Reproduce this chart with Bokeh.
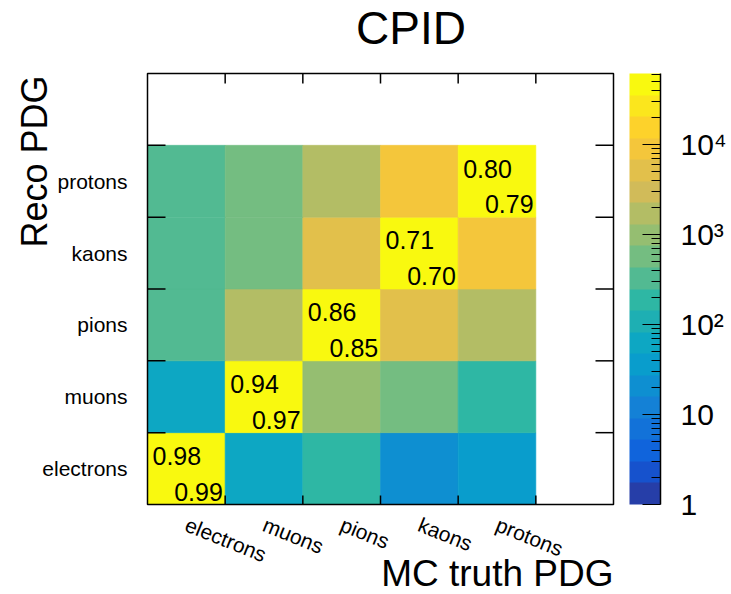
import numpy as np
from bokeh.plotting import figure
from bokeh.models import ColumnDataSource, LogColorMapper, ColorBar, FixedTicker, Label
from bokeh.core.properties import value
from bokeh.embed import file_html
from bokeh.resources import INLINE

# ---- data -------------------------------------------------------------
species = ["electrons", "muons", "pions", "kaons", "protons"]

# counts: one list per reconstructed species (rows), ordered by MC truth species (columns)
reco_electrons = [61500, 62, 190, 21, 36]
reco_muons = [62, 52000, 980, 580, 190]
reco_pions = [330, 1700, 44000, 5200, 1700]
reco_kaons = [330, 580, 5200, 38000, 9000]
reco_protons = [330, 580, 1700, 9000, 41000]

# fractions printed in the diagonal cells
diag_upper = ["0.98", "0.94", "0.86", "0.71", "0.80"]
diag_lower = ["0.99", "0.97", "0.85", "0.70", "0.79"]

z_low = 1
cbar_major = [1, 10, 100, 1000, 10000]
cbar_major_text = ["1", "10", "10\u00b2", "10\u00b3", "10\u2074"]

FONT = "Liberation Sans"

# ---- ROOT-like "bird" palette, 20 discrete contour levels ---------------
stops = [0.0, 0.125, 0.25, 0.375, 0.5, 0.625, 0.75, 0.875, 1.0]
red = [0.2082, 0.0592, 0.0780, 0.0232, 0.1802, 0.5301, 0.8186, 0.9956, 0.9764]
green = [0.1664, 0.3599, 0.5041, 0.6419, 0.7178, 0.7492, 0.7328, 0.7862, 0.9832]
blue = [0.5293, 0.8684, 0.8385, 0.7914, 0.6425, 0.4662, 0.3499, 0.1968, 0.0539]

def gradient_table(n=255):
    table = []
    for g in range(1, len(stops)):
        a = int(np.floor(n * stops[g - 1]))
        b = int(np.floor(n * stops[g]))
        m = b - a
        for c in range(m):
            f = c / m
            rgb = [ch[g - 1] + (ch[g] - ch[g - 1]) * f for ch in (red, green, blue)]
            table.append(rgb)
    return table

table = gradient_table()
ndiv = 20
palette = []
for i in range(ndiv):
    j = int((i + 0.99) * len(table) / ndiv)
    r, g, b = table[min(j, len(table) - 1)]
    palette.append("#%02x%02x%02x" % (int(round(r * 255)), int(round(g * 255)), int(round(b * 255))))

# ---- page geometry: the drawing area spans the whole canvas -------------
W, H = 731, 594
FRAME_L, FRAME_R, FRAME_T, FRAME_B = 147, 613, 73, 504   # histogram frame, px

nbins = len(species) + 1
ux = (FRAME_R - FRAME_L) / nbins      # px per bin along x
uy = (FRAME_B - FRAME_T) / nbins      # px per bin along y

def dx(px):   # px -> data units (x)
    return px / ux

def dy(px):   # px -> data units (y)
    return px / uy

x_range = (-dx(FRAME_L), dx(W - FRAME_L))
y_range = (-dy(H - FRAME_B), dy(FRAME_B))

p = figure(width=W, height=H, x_range=x_range, y_range=y_range,
           output_backend="svg", toolbar_location=None,
           x_axis_location=None, y_axis_location=None, min_border=0)
p.xgrid.grid_line_color = None
p.ygrid.grid_line_color = None
p.outline_line_color = None
p.background_fill_color = "white"
p.border_fill_color = "white"

# ---- cells ------------------------------------------------------------
rows = [reco_electrons, reco_muons, reco_pions, reco_kaons, reco_protons]
xs, ys, counts = [], [], []
for ri, row in enumerate(rows):
    for ci, c in enumerate(row):
        xs.append(ci + 0.5)
        ys.append(ri + 0.5)
        counts.append(c)
cells = ColumnDataSource(dict(x=xs, y=ys, count=counts))

z_high = max(counts)
mapper = LogColorMapper(palette=palette, low=z_low, high=z_high)

p.rect(x="x", y="y", width=1, height=1, source=cells,
       fill_color={"field": "count", "transform": mapper},
       line_color={"field": "count", "transform": mapper}, line_width=0.6)

# ---- frame and tick marks (ticks point inwards, at bin edges) ------------
edges = list(range(1, nbins))
centers = [k + 0.5 for k in range(len(species))]

p.quad(left=0, right=nbins, bottom=0, top=nbins, fill_color=None,
       line_color="black", line_width=1.5)

tk = dict(x0=[], y0=[], x1=[], y1=[])
for e in edges:
    for (a, b, c, d) in [(e, 0, e, dy(9)),                      # bottom
                         (e, nbins, e, nbins - dy(10)),          # top
                         (0, e, dx(18), e),                      # left
                         (nbins, e, nbins - dx(18), e)]:         # right
        tk["x0"].append(a); tk["y0"].append(b)
        tk["x1"].append(c); tk["y1"].append(d)
p.segment(x0="x0", y0="y0", x1="x1", y1="y1", source=ColumnDataSource(tk),
          line_color="black", line_width=1.5)

# ---- bin labels ---------------------------------------------------------
p.text(x=[0] * len(species), y=centers, text=species, x_offset=-20,
       text_font=value(FONT), text_font_size="21px", text_color="black",
       text_align="right", text_baseline="middle")

p.text(x=centers, y=[-dy(19)] * len(species), text=species, angle=-0.384,
       text_font=value(FONT), text_font_size="21px", text_color="black",
       text_align="left", text_baseline="middle")

# ---- diagonal fractions -------------------------------------------------
diag = ColumnDataSource(dict(
    xu=[k + dx(5) for k in range(len(species))],
    yu=[k + 0.5 + dy(4) + dy(0.35 * 25) for k in range(len(species))],
    xl=[k + 1 - dx(2.3) for k in range(len(species))],
    yl=[k + dy(4) + dy(0.35 * 25) for k in range(len(species))],
    tu=diag_upper, tl=diag_lower))
p.text(x="xu", y="yu", text="tu", source=diag, text_font=value(FONT),
       text_font_size="25px", text_align="left", text_baseline="middle",
       text_color="black")
p.text(x="xl", y="yl", text="tl", source=diag, text_font=value(FONT),
       text_font_size="25px", text_align="right", text_baseline="middle",
       text_color="black")

# ---- colour scale -------------------------------------------------------
minors = [k * 10 ** d for d in range(0, 5) for k in range(2, 10) if k * 10 ** d <= z_high]
cb = ColorBar(color_mapper=mapper,
              ticker=FixedTicker(ticks=cbar_major, minor_ticks=minors),
              major_label_overrides={v: s for v, s in zip(cbar_major, cbar_major_text)},
              width=31, height=FRAME_B - FRAME_T, location=(629, H - FRAME_B),
              padding=0, margin=0,
              label_standoff=20, major_label_text_font=FONT,
              major_label_text_font_size="30px", major_label_text_color="black",
              major_tick_in=18, major_tick_out=0, major_tick_line_color="black",
              major_tick_line_width=1.2,
              minor_tick_in=9, minor_tick_out=0, minor_tick_line_color="black",
              minor_tick_line_width=1.2,
              bar_line_color=None, border_line_color=None,
              background_fill_color=None)
p.add_layout(cb, "center")

# axis line along the right side of the colour scale
bar_edge = dx(660 - FRAME_L)
p.segment(x0=[bar_edge], y0=[0], x1=[bar_edge], y1=[nbins], line_color="black",
          line_width=1.5, level="overlay")

# ---- titles -------------------------------------------------------------
p.add_layout(Label(x=dx(410.5 - FRAME_L), y=dy(FRAME_B - 44 + 0.35 * 46),
                   text="CPID", text_font=FONT, text_font_size="46px",
                   text_align="center", text_baseline="middle", text_color="black"))
p.add_layout(Label(x=nbins, y=-dy(586 - FRAME_B - 0.35 * 37),
                   text="MC truth PDG", text_font=FONT, text_font_size="37px",
                   text_align="right", text_baseline="middle", text_color="black"))
p.add_layout(Label(x=-dx(FRAME_L - 47 + 0.35 * 36), y=dy(FRAME_B - 75),
                   text="Reco PDG", text_font=FONT, text_font_size="36px",
                   text_align="right", text_baseline="middle", angle=np.pi / 2,
                   text_color="black"))

open("out.html", "w").write(file_html(p, INLINE))
